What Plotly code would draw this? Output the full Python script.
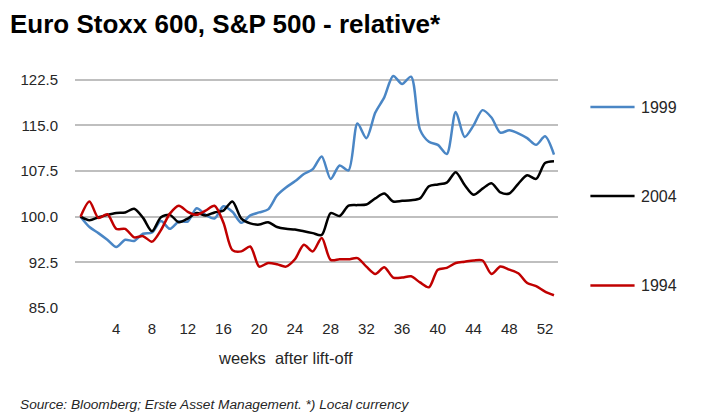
import plotly.graph_objects as go

weeks = list(range(0, 54))

y1999 = [100.0, 98.3, 97.3, 96.2, 95.0, 96.2, 96.0, 97.2, 97.4, 99.3,
         98.0, 99.2, 99.2, 101.4, 100.3, 99.7, 101.7, 100.8, 99.0, 100.2,
         100.7, 101.2, 103.5, 104.8, 105.8, 107.0, 107.8, 109.9, 106.2, 108.4,
         107.6, 115.3, 112.9, 117.1, 119.6, 123.1, 121.8, 123.0, 114.3, 112.3,
         111.8, 110.3, 117.2, 113.1, 115.0, 117.5, 116.3, 113.8, 114.2, 113.7,
         112.9, 111.8, 113.2, 110.2]

y2004 = [100.0, 99.4, 99.9, 100.3, 100.6, 100.7, 101.3, 99.8, 97.6, 99.9,
         100.3, 99.1, 99.7, 100.6, 100.2, 100.7, 101.0, 102.5, 99.7, 98.9,
         98.7, 99.1, 98.3, 98.0, 97.9, 97.6, 97.3, 97.0, 100.6, 100.1,
         101.8, 101.9, 102.0, 103.0, 103.8, 102.5, 102.6, 102.7, 103.0, 105.0,
         105.3, 105.6, 107.3, 105.2, 103.6, 104.6, 105.5, 104.0, 103.8, 105.4,
         106.8, 106.2, 108.8, 109.1]

y1994 = [100.0, 102.5, 99.8, 100.4, 98.0, 98.0, 96.6, 96.8, 95.9, 97.8,
         100.5, 101.8, 100.8, 100.3, 101.0, 101.8, 99.0, 94.5, 94.3, 95.1,
         91.8, 92.4, 92.2, 91.8, 93.0, 95.4, 94.3, 96.5, 92.9, 93.0,
         93.0, 93.2, 91.8, 90.6, 91.7, 90.0, 90.0, 90.2, 89.2, 88.4,
         91.3, 91.6, 92.4, 92.6, 92.8, 92.8, 90.6, 91.8, 91.3, 90.7,
         89.1, 88.6, 87.7, 87.1]

x_ticks = [4, 8, 12, 16, 20, 24, 28, 32, 36, 40, 44, 48, 52]
y_ticks = [85.0, 92.5, 100.0, 107.5, 115.0, 122.5]
y_tick_text = ["85.0", "92.5", "100.0", "107.5", "115.0", "122.5"]

series_names = ["1999", "2004", "1994"]
series_values = [y1999, y2004, y1994]
series_colors = ["#4a86c5", "#000000", "#c00000"]

font_main = "Liberation Sans, Arial, sans-serif"
text_col = "#262626"

# The page has an 8px body margin, so the figure is sized to fill the rest.
W, H = 699, 410
PL, PR, PT, PB = 58, 550, 65, 300
PW, PH = PR - PL, PB - PT

def px(xp):
    return (xp - PL) / PW

def py(yp):
    return (PB - yp) / PH

fig = go.Figure()
for name, vals, col in zip(series_names, series_values, series_colors):
    fig.add_trace(go.Scatter(
        x=weeks, y=vals, name=name, mode="lines",
        line=dict(color=col, width=2.5, shape="spline", smoothing=0.8),
        showlegend=False,
    ))

# manual legend (line sample + label) placed to the right of the plot
legend_y = [99, 188, 277.5]
shapes = [dict(type="line", xref="paper", x0=0, x1=1, yref="y", y0=100, y1=100,
               line=dict(color="#7f7f7f", width=1.5), layer="below")]
annotations = []
for name, col, ly in zip(series_names, series_colors, legend_y):
    shapes.append(dict(type="line", xref="paper", yref="paper",
                       x0=px(583), x1=px(628), y0=py(ly), y1=py(ly),
                       line=dict(color=col, width=2.5)))
    annotations.append(dict(text=name, xref="paper", yref="paper",
                            x=px(633), y=py(ly), xanchor="left", yanchor="middle",
                            showarrow=False, font=dict(size=16, color=text_col)))

annotations.append(dict(text="weeks  after lift-off", xref="paper", yref="paper",
                        x=px(272), y=py(350), xanchor="center", yanchor="middle",
                        showarrow=False, font=dict(size=16.5, color=text_col)))
annotations.append(dict(text="<i>Source: Bloomberg; Erste Asset Management. *) Local currency</i>",
                        xref="paper", yref="paper", x=px(0), y=py(396),
                        xanchor="left", yanchor="middle", showarrow=False,
                        font=dict(size=13.7, color=text_col)))

fig.update_layout(
    width=W, height=H,
    margin=dict(l=PL, r=W - PR, t=PT, b=H - PB),
    paper_bgcolor="white", plot_bgcolor="white",
    font=dict(family=font_main, size=15, color=text_col),
    showlegend=False,
    title=dict(
        text="<b>Euro Stoxx 600, S&P 500 - relative*</b>",
        x=2 / W, xanchor="left", xref="container",
        y=1 - 16 / H, yanchor="middle", yref="container",
        pad=dict(l=0, r=0, t=0, b=0),
        font=dict(family=font_main, size=26, color="#000000"),
    ),
    xaxis=dict(
        range=[-0.62, 53.45],
        tickmode="array", tickvals=x_ticks, ticktext=[str(v) for v in x_ticks],
        showgrid=False, zeroline=False, showline=False,
        ticks="", ticklabelstandoff=10,
        tickfont=dict(size=15, color=text_col),
    ),
    yaxis=dict(
        range=[85, 123.6],
        tickmode="array", tickvals=y_ticks, ticktext=y_tick_text,
        showgrid=True, gridcolor="#bfbfbf", gridwidth=1.5,
        zeroline=False, showline=False,
        ticks="", ticklabelstandoff=16,
        tickfont=dict(size=15, color=text_col),
    ),
    shapes=shapes,
    annotations=annotations,
)

fig.write_html("out.html")
